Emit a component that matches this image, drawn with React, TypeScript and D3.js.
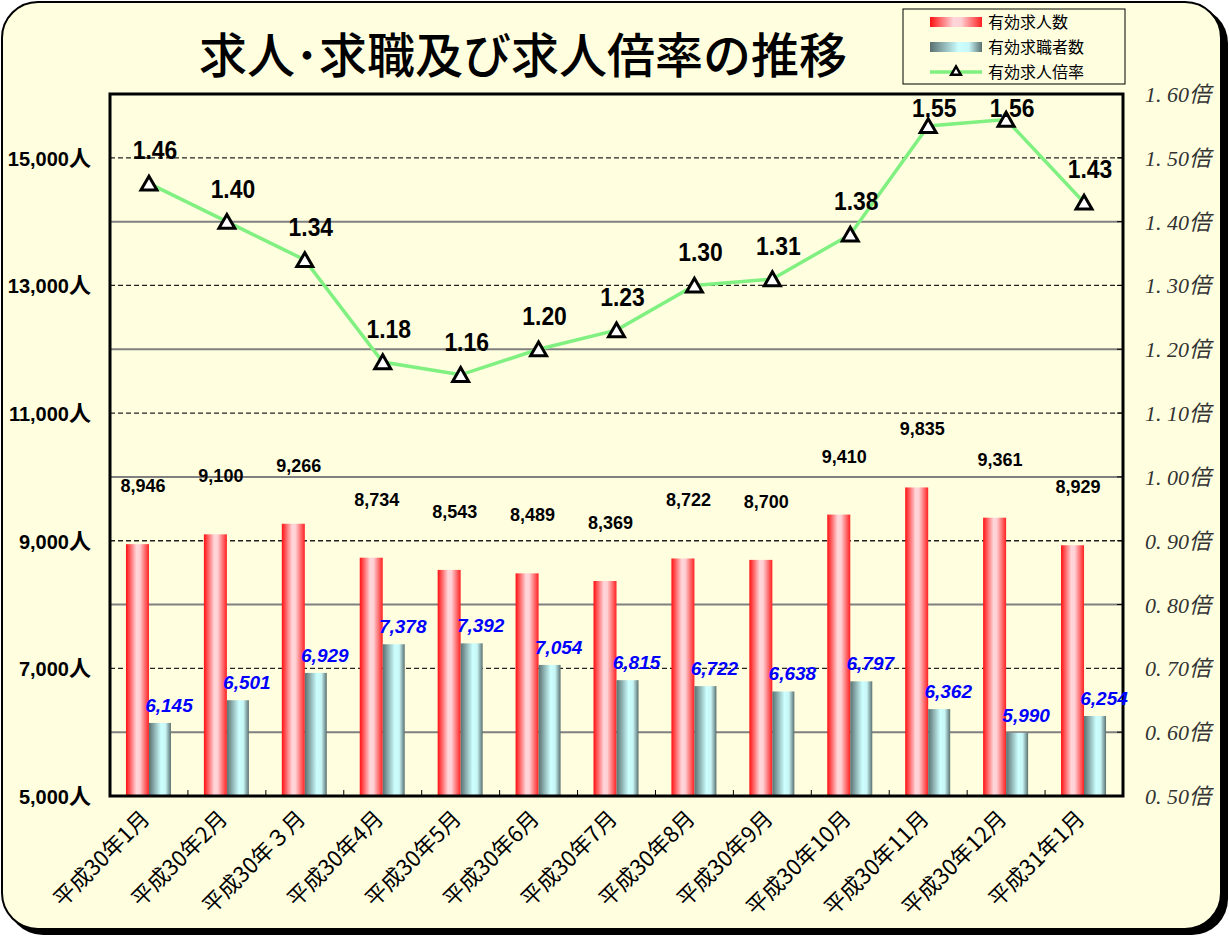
import React from "react";
import * as d3 from "d3";

const months = [
  "平成30年1月", "平成30年2月", "平成30年３月", "平成30年4月", "平成30年5月",
  "平成30年6月", "平成30年7月", "平成30年8月", "平成30年9月", "平成30年10月",
  "平成30年11月", "平成30年12月", "平成31年1月",
];
const openings = [8946, 9100, 9266, 8734, 8543, 8489, 8369, 8722, 8700, 9410, 9835, 9361, 8929];
const seekers = [6145, 6501, 6929, 7378, 7392, 7054, 6815, 6722, 6638, 6797, 6362, 5990, 6254];
const ratio = [1.46, 1.40, 1.34, 1.18, 1.16, 1.20, 1.23, 1.30, 1.31, 1.38, 1.55, 1.56, 1.43];
const leftTicks = [5000, 7000, 9000, 11000, 13000, 15000];
const gridValues = [6000, 7000, 8000, 9000, 10000, 11000, 12000, 13000, 14000, 15000];
const rightTicks = [0.5, 0.6, 0.7, 0.8, 0.9, 1.0, 1.1, 1.2, 1.3, 1.4, 1.5, 1.6];
const legendItems = ["有効求人数", "有効求職者数", "有効求人倍率"];

const W = 1229;
const H = 936;
const bg = "#FFFFE0";
const plot = { left: 110, right: 1123, top: 94, bottom: 796 };
const gothic = "'Liberation Sans', Arial, 'Noto Sans CJK JP', sans-serif";
const jp = "'Noto Sans CJK JP', sans-serif";

const App = () => {
  const x = d3.scaleBand<number>()
    .domain(d3.range(months.length))
    .range([plot.left, plot.right]);
  const y = d3.scaleLinear().domain([5000, 16000]).range([plot.bottom, plot.top]);
  const y2 = d3.scaleLinear().domain([0.5, 1.6]).range([plot.bottom, plot.top]);
  const barW = 23;
  const cx = (i: number) => (x(i) as number) + x.bandwidth() / 2;
  const fmt = d3.format(",");

  const line = d3.line<number>()
    .x((d, i) => cx(i))
    .y((d) => y2(d));

  const tri = d3.symbol().type(d3.symbolTriangle).size(110);

  return (
    <div>
      <style>{"body{margin:0}"}</style>
      <svg width={W} height={H} style={{ display: "block" }}>
        <defs>
          <linearGradient id="redG" x1="0" x2="1" y1="0" y2="0">
            <stop offset="0" stopColor="#FF1010" />
            <stop offset="0.45" stopColor="#FFD6DA" />
            <stop offset="0.6" stopColor="#FFD0D4" />
            <stop offset="1" stopColor="#FF2020" />
          </linearGradient>
          <linearGradient id="tealG" x1="0" x2="1" y1="0" y2="0">
            <stop offset="0" stopColor="#5A7070" />
            <stop offset="0.55" stopColor="#CCFFFF" />
            <stop offset="0.75" stopColor="#C8F6F6" />
            <stop offset="1" stopColor="#5A7070" />
          </linearGradient>
        </defs>

        {/* outer frame with shadow */}
        <rect x={7} y={7} width={1221} height={928} rx={36} fill="#000" />
        <rect x={2} y={2} width={1219} height={927} rx={36} fill={bg} stroke="#000" strokeWidth={2} />

        <text x={523} y={73} textAnchor="middle" fontFamily={jp} fontWeight={500} fontSize={48} fill="#000">
          求人･求職及び求人倍率の推移
        </text>

        {/* grid */}
        {gridValues.map((v) => {
          const dashed = leftTicks.includes(v);
          return (
            <line key={v} x1={plot.left} x2={plot.right} y1={y(v)} y2={y(v)}
              stroke={dashed ? "#222" : "#808080"} strokeWidth={dashed ? 1.3 : 2}
              strokeDasharray={dashed ? "5,3" : undefined} />
          );
        })}

        {/* bars */}
        {openings.map((v, i) => (
          <rect key={"o" + i} x={cx(i) - barW} y={y(v)} width={barW} height={plot.bottom - y(v)} fill="url(#redG)" />
        ))}
        {seekers.map((v, i) => (
          <rect key={"s" + i} x={cx(i)} y={y(v)} width={barW - 1} height={plot.bottom - y(v)} fill="url(#tealG)" />
        ))}

        {/* category ticks */}
        {months.slice(1).map((m, i) => (
          <line key={m} x1={x(i + 1)} x2={x(i + 1)} y1={plot.bottom} y2={plot.bottom - 6} stroke="#000" strokeWidth={1} />
        ))}

        {/* plot frame */}
        <rect x={plot.left} y={plot.top} width={plot.right - plot.left} height={plot.bottom - plot.top}
          fill="none" stroke="#000" strokeWidth={3} />

        {/* ratio line */}
        <path d={line(ratio) || ""} fill="none" stroke="#80F080" strokeWidth={3.5} />
        {ratio.map((v, i) => (
          <path key={"t" + i} d={tri() || ""} transform={`translate(${cx(i)},${y2(v) + 2})`}
            fill="#fff" stroke="#000" strokeWidth={3} strokeLinejoin="miter" />
        ))}

        {/* labels */}
        {openings.map((v, i) => (
          <text key={"ol" + i} x={cx(i) - 6} y={y(v) - 52} textAnchor="middle"
            fontFamily={gothic} fontWeight="bold" fontSize={18} fill="#000">
            {fmt(v)}
          </text>
        ))}
        {seekers.map((v, i) => (
          <text key={"sl" + i} x={cx(i) + 20} y={y(v) - 11} textAnchor="middle"
            fontFamily={gothic} fontWeight="bold" fontStyle="italic" fontSize={19} fill="#0000FF">
            {fmt(v)}
          </text>
        ))}
        {ratio.map((v, i) => (
          <text key={"rl" + i}
            transform={`translate(${cx(i) + 6},${Math.max(y2(v) - 24, 117)}) scale(0.88,1)`}
            textAnchor="middle" fontFamily={gothic} fontWeight="bold" fontSize={26} fill="#000">
            {v.toFixed(2)}
          </text>
        ))}

        {/* left axis */}
        {leftTicks.map((v) => (
          <text key={"l" + v} x={91} y={y(v) + 8} textAnchor="end"
            fontFamily={gothic} fontWeight="bold" fontSize={20} fill="#000">
            {fmt(v)}
            <tspan fontFamily={jp} fontSize={22}>人</tspan>
          </text>
        ))}

        {/* right axis */}
        {rightTicks.map((v) => (
          <g key={"r" + v}>
            <line x1={plot.right - 6} x2={plot.right} y1={y2(v)} y2={y2(v)} stroke="#000" strokeWidth={1} />
            <text x={1145} y={y2(v) + 8} fontFamily="'Liberation Serif', 'Noto Sans CJK JP', serif"
              fontStyle="italic" fontSize={22} fill="#333">
              {v.toFixed(1)[0] + ". " + v.toFixed(2).slice(2) + "倍"}
            </text>
          </g>
        ))}

        {/* x axis labels */}
        {months.map((m, i) => (
          <text key={m} transform={`translate(${cx(i) + 2},${plot.bottom + 24}) rotate(-45)`} textAnchor="end"
            fontFamily={jp} fontSize={22} fill="#000">
            {m}
          </text>
        ))}

        {/* legend */}
        <g>
          <rect x={903} y={9} width={222} height={75} fill={bg} stroke="#000" strokeWidth={1} />
          {legendItems.map((t, i) => {
            const ly = 22 + i * 25;
            return (
              <g key={t}>
                {i === 0 && <rect x={930} y={ly - 5} width={52} height={10} fill="url(#redG)" />}
                {i === 1 && <rect x={930} y={ly - 5} width={52} height={10} fill="url(#tealG)" />}
                {i === 2 && (
                  <g>
                    <line x1={930} x2={982} y1={ly} y2={ly} stroke="#80F080" strokeWidth={3.5} />
                    <path d={d3.symbol().type(d3.symbolTriangle).size(40)() || ""}
                      transform={`translate(956,${ly})`} fill="#fff" stroke="#000" strokeWidth={2.5} />
                  </g>
                )}
                <text x={988} y={ly + 6} fontFamily={jp} fontSize={16} fill="#000">{t}</text>
              </g>
            );
          })}
        </g>
      </svg>
    </div>
  );
};

export default App;
